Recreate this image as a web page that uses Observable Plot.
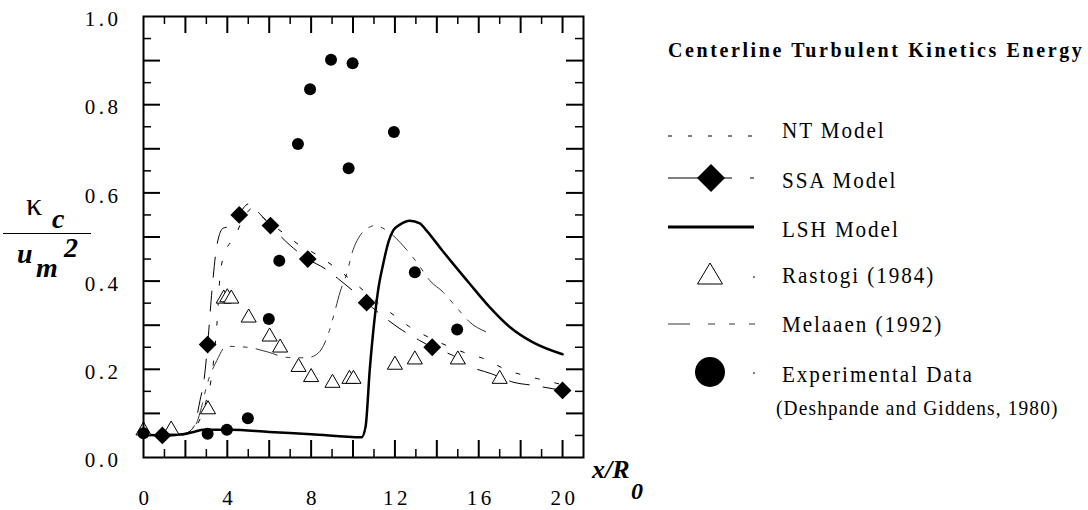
<!DOCTYPE html>
<html>
<head>
<meta charset="utf-8">
<script src="https://cdn.jsdelivr.net/npm/d3@7"></script>
<script src="https://cdn.jsdelivr.net/npm/@observablehq/plot@0.6"></script>
<style>
  html, body { margin: 0; padding: 0; background: #fff; }
  #wrap { position: relative; width: 1088px; height: 510px; overflow: hidden; background: #fff; }
  #wrap > svg { position: absolute; left: 0; top: 0; }
  #overlay { pointer-events: none; }
</style>
</head>
<body>
<div id="wrap"></div>
<script>
// ---------------- data ----------------
// NT model (fine dashed)
const ntX = [0, 1, 2, 2.5, 3.0, 3.3, 3.5, 3.65, 3.85, 4.35, 4.8, 5.2, 5.8, 6.68, 7.4, 8.19, 9.03, 9.74, 10.49, 11.2, 11.97, 12.71, 13.59, 14.46, 15.49, 16.37, 17.3, 18.19, 19.14, 20];
const ntY = [0.05, 0.05, 0.052, 0.07, 0.13, 0.2, 0.3, 0.41, 0.46, 0.50, 0.545, 0.565, 0.54, 0.509, 0.483, 0.462, 0.435, 0.409, 0.379, 0.35, 0.322, 0.296, 0.273, 0.254, 0.235, 0.222, 0.199, 0.186, 0.175, 0.165];

// SSA model (long dashes) and its diamond markers
const ssaX = [0, 1, 2, 2.4, 2.7, 2.9, 3.06, 3.27, 3.5, 3.8, 4.3, 4.57, 5.0, 5.6, 6.06, 7.0, 7.84, 8.67, 9.3, 10.17, 10.65, 11.6, 12.24, 13.19, 13.78, 14.94, 15.49, 16.6, 17.63, 18.67, 20];
const ssaY = [0.052, 0.05, 0.055, 0.07, 0.13, 0.18, 0.256, 0.38, 0.48, 0.52, 0.525, 0.55, 0.575, 0.55, 0.526, 0.481, 0.45, 0.428, 0.405, 0.371, 0.351, 0.314, 0.292, 0.265, 0.25, 0.227, 0.209, 0.19, 0.171, 0.163, 0.152];
const ssaMarkX = [0.9, 3.06, 4.57, 6.06, 7.84, 10.65, 13.78, 20];
const ssaMarkY = [0.05, 0.256, 0.55, 0.526, 0.45, 0.351, 0.25, 0.152];

// LSH model (thick solid)
const lshX = [0, 1, 1.76, 2.4, 2.87, 4.14, 6, 8, 10.41, 10.6, 10.8, 10.97, 11.2, 11.44, 11.7, 11.92, 12.24, 12.71, 13.19, 13.5, 14.25, 14.78, 15.57, 16.52, 17.48, 18.59, 20];
const lshY = [0.052, 0.05, 0.052, 0.058, 0.063, 0.063, 0.058, 0.053, 0.046, 0.07, 0.2, 0.288, 0.38, 0.439, 0.49, 0.515, 0.528, 0.537, 0.531, 0.515, 0.47, 0.439, 0.394, 0.341, 0.296, 0.261, 0.234];

// Melaaen (1992) (long-short dashes)
const melX = [0, 1, 2, 2.5, 2.8, 3.0, 3.5, 3.95, 4.94, 5.95, 6.84, 7.79, 8.2, 8.5, 8.9, 9.14, 9.38, 9.7, 9.97, 10.33, 10.7, 11.05, 11.5, 11.92, 12.56, 13.1, 13.67, 14.3, 15.0, 15.57, 16.4];
const melY = [0.05, 0.05, 0.055, 0.075, 0.12, 0.16, 0.22, 0.252, 0.25, 0.239, 0.227, 0.226, 0.232, 0.246, 0.292, 0.333, 0.375, 0.417, 0.466, 0.503, 0.52, 0.526, 0.518, 0.503, 0.471, 0.439, 0.401, 0.375, 0.337, 0.307, 0.284];

// Rastogi (1984) open triangles
const rasX = [0, 1.32, 3.08, 3.83, 4.0, 4.19, 5.02, 6.02, 6.52, 7.4, 8.0, 9.02, 9.83, 10.02, 12.0, 12.95, 15.0, 17.0];
const rasY = [0.061, 0.063, 0.109, 0.36, 0.363, 0.36, 0.317, 0.274, 0.249, 0.205, 0.182, 0.169, 0.178, 0.178, 0.21, 0.222, 0.222, 0.178];

// Experimental data (Deshpande and Giddens, 1980)
const expX = [0, 3.06, 3.98, 4.98, 5.98, 6.48, 7.37, 7.95, 8.95, 9.79, 9.98, 11.95, 12.95, 14.97];
const expY = [0.055, 0.054, 0.063, 0.089, 0.314, 0.446, 0.711, 0.835, 0.902, 0.656, 0.894, 0.738, 0.42, 0.29];

// axes
const xLabelTicks = [0, 4, 8, 12, 16, 20];
const yLabelTicks = [0, 0.2, 0.4, 0.6, 0.8, 1.0];
const xMajor = [2, 4, 6, 8, 10, 12, 14, 16, 18, 20];
const xMinor = [1, 3, 5, 7, 9, 11, 13, 15, 17, 19];
const yMajor = [0.1, 0.2, 0.3, 0.4, 0.5, 0.6, 0.7, 0.8, 0.9];
const yMinor = [0.05, 0.15, 0.25, 0.35, 0.45, 0.55, 0.65, 0.75, 0.85, 0.95];

// ---------------- build ----------------
const zip = (xs, ys) => xs.map((x, i) => ({x, y: ys[i]}));
const W = 600, H = 510, mL = 143, mR = 17, mT = 16, mB = 53;
const innerW = W - mL - mR, innerH = H - mT - mB;
const xMax = 21;
const yLen = px => px / innerH;          // pixel length -> y units
const xLen = px => px / innerW * xMax;   // pixel length -> x units
const LONG = 17, SHORT = 8;

const chart = Plot.plot({
  width: W, height: H,
  marginLeft: mL, marginRight: mR, marginTop: mT, marginBottom: mB,
  x: {domain: [0, xMax], label: null},
  y: {domain: [0, 1], label: null},
  style: {fontFamily: "'Liberation Serif', 'Times New Roman', serif", letterSpacing: "3.5px", background: "white", color: "black", overflow: "visible"},
  marks: [
    // inward ticks
    Plot.ruleX(xMajor, {x: d => d, y1: 0, y2: yLen(LONG), strokeWidth: 2}),
    Plot.ruleX(xMinor, {x: d => d, y1: 0, y2: yLen(SHORT), strokeWidth: 1.5}),
    Plot.ruleX(xMajor, {x: d => d, y1: 1, y2: 1 - yLen(LONG), strokeWidth: 2}),
    Plot.ruleX(xMinor, {x: d => d, y1: 1, y2: 1 - yLen(SHORT), strokeWidth: 1.5}),
    Plot.ruleY(yMajor, {y: d => d, x1: 0, x2: xLen(LONG), strokeWidth: 2}),
    Plot.ruleY(yMinor, {y: d => d, x1: 0, x2: xLen(SHORT), strokeWidth: 1.5}),
    Plot.ruleY(yMajor, {y: d => d, x1: xMax, x2: xMax - xLen(LONG), strokeWidth: 2}),
    Plot.ruleY(yMinor, {y: d => d, x1: xMax, x2: xMax - xLen(SHORT), strokeWidth: 1.5}),
    Plot.axisX({ticks: xLabelTicks, label: null, tickSize: 0, tickPadding: 33, fontSize: 21, dx: 2, tickFormat: d => String(d)}),
    Plot.axisY({ticks: yLabelTicks, label: null, tickSize: 0, tickPadding: 22, fontSize: 21, dy: 3, tickFormat: d3.format(".1f")}),
    // model lines
    Plot.line(zip(melX, melY), {x: "x", y: "y", stroke: "#333", strokeWidth: 1, strokeDasharray: "22,9,4,9,4,9", curve: "monotone-x"}),
    Plot.line(zip(ntX, ntY), {x: "x", y: "y", stroke: "black", strokeWidth: 1, strokeDasharray: "4,16", curve: "monotone-x"}),
    Plot.line(zip(ssaX, ssaY), {x: "x", y: "y", stroke: "black", strokeWidth: 1, strokeDasharray: "20,14", curve: "monotone-x"}),
    Plot.line(zip(lshX, lshY), {x: "x", y: "y", stroke: "black", strokeWidth: 2.5, curve: "monotone-x"}),
    // markers
    Plot.dot(zip(rasX, rasY), {x: "x", y: "y", symbol: "triangle", r: 5.6, fill: "white", stroke: "black", strokeWidth: 1}),
    Plot.dot(zip(ssaMarkX, ssaMarkY), {x: "x", y: "y", symbol: "diamond2", r: 8, fill: "black", stroke: "none"}),
    Plot.dot(zip(expX, expY), {x: "x", y: "y", r: 6, fill: "black", stroke: "none"}),
    Plot.frame({stroke: "black", strokeWidth: 2})
  ]
});

const wrap = document.getElementById("wrap");
wrap.appendChild(chart);

// ---------------- labels & legend overlay ----------------
const serif = "'Liberation Serif', 'Times New Roman', serif";
const ns = "http://www.w3.org/2000/svg";
const ov = document.createElementNS(ns, "svg");
ov.setAttribute("id", "overlay");
ov.setAttribute("width", 1088);
ov.setAttribute("height", 510);
ov.style.position = "absolute"; ov.style.left = "0"; ov.style.top = "0";
const legendLabels = ["NT Model", "SSA Model", "LSH Model", "Rastogi (1984)", "Melaaen (1992)", "Experimental Data"];
const legendBase = [138, 188, 237, 283, 332, 382];
const lab = legendLabels.map((t, i) =>
  `<text transform="translate(782,${legendBase[i]}) scale(0.88,1)" font-size="24" letter-spacing="2.2">${t}</text>`).join("");
ov.innerHTML = `
<g font-family="${serif}" fill="black">
  <!-- y-axis label -->
  <text x="26" y="215" font-size="32">κ</text>
  <text x="52" y="228" font-size="28" font-weight="bold" font-style="italic">c</text>
  <line x1="3" x2="91" y1="233.5" y2="233.5" stroke="black" stroke-width="1"/>
  <text x="17" y="263" font-size="28" font-weight="bold" font-style="italic">u</text>
  <text x="36" y="277" font-size="28" font-weight="bold" font-style="italic">m</text>
  <text x="64" y="257" font-size="28" font-weight="bold" font-style="italic">2</text>
  <!-- x-axis label -->
  <text x="592" y="478" font-size="26" font-weight="bold" font-style="italic">x/R</text>
  <text x="631" y="499" font-size="24" font-weight="bold" font-style="italic">0</text>
  <!-- legend -->
  <text x="668" y="57" font-size="20" font-weight="bold" letter-spacing="2.6">Centerline Turbulent Kinetics Energy</text>
  ${lab}
  <text transform="translate(776,415) scale(0.88,1)" font-size="22" letter-spacing="1.3">(Deshpande and Giddens, 1980)</text>
</g>
<g stroke="black" fill="none">
  <line x1="668" x2="754" y1="136" y2="136" stroke-width="1" stroke-dasharray="4,16"/>
  <line x1="668" x2="732" y1="178" y2="178" stroke-width="1"/>
  <line x1="750" x2="754" y1="178" y2="178" stroke-width="1"/>
  <polygon points="711,164 725,178 711,192 697,178" fill="black" stroke="none"/>
  <line x1="668" x2="754" y1="227" y2="227" stroke-width="3"/>
  <polygon points="710,263 722.5,284 697.5,284" fill="white" stroke-width="1"/>
  <line x1="753" x2="755" y1="277" y2="277" stroke-width="1"/>
  <g stroke="#777" stroke-width="1.5">
    <line x1="668" x2="690" y1="324" y2="324"/>
    <line x1="708" x2="715" y1="324" y2="324"/>
    <line x1="729" x2="735" y1="324" y2="324"/>
    <line x1="749" x2="755" y1="324" y2="324"/>
  </g>
  <circle cx="710" cy="372" r="15" fill="black" stroke="none"/>
  <line x1="753" x2="755" y1="373" y2="373" stroke-width="1"/>
</g>`;
wrap.appendChild(ov);
</script>
</body>
</html>
